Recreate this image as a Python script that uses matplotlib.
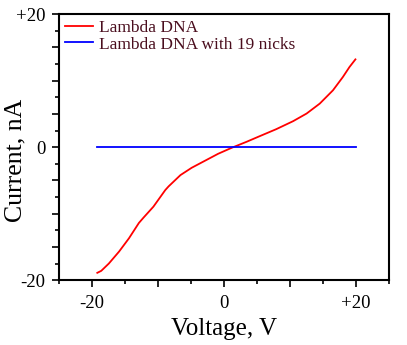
import numpy as np
import matplotlib.pyplot as plt
from matplotlib.ticker import MultipleLocator, FixedLocator, FixedFormatter

# red curve
voltage = [-19.2, -18.6, -17.45, -15.9, -14.4, -12.9, -12.2, -10.7, -8.9, -8.4,
           -6.6, -4.9, -2.9, -0.9, 1.15, 3.4, 5.4, 7.9, 10.45, 12.5, 14.5,
           16.5, 18.0, 19.0, 19.9]
current = [-18.9, -18.6, -17.5, -15.7, -13.7, -11.4, -10.6, -8.95, -6.45, -5.9,
           -4.2, -3.1, -2.05, -1.0, -0.1, 0.8, 1.65, 2.7, 3.9, 5.05, 6.55,
           8.55, 10.55, 12.05, 13.2]
# nicked DNA: flat at zero
nick_v = [-19.2, 20.0]
nick_i = [0.0, 0.0]

plt.rcParams['font.family'] = ['Liberation Serif', 'DejaVu Serif']

fig = plt.figure(figsize=(4.07, 3.45), dpi=100)
ax = fig.add_axes([0.145, 0.188, 0.811, 0.771])

ax.plot(voltage, current, color='red', lw=1.3, label='Lambda DNA')
ax.plot(nick_v, nick_i, color='blue', lw=1.3, label='Lambda DNA with 19 nicks')

ax.set_xlim(-25, 25)
ax.set_ylim(-20, 20)

ax.xaxis.set_major_locator(FixedLocator([-20, -10, 0, 10, 20]))
ax.xaxis.set_major_formatter(FixedFormatter(['-20', '', '0', '', '+20']))
ax.xaxis.set_minor_locator(MultipleLocator(5))
ax.yaxis.set_major_locator(FixedLocator([-20, -15, -10, -5, 0, 5, 10, 15, 20]))
ax.yaxis.set_major_formatter(FixedFormatter(['-20', '', '', '', '0', '', '', '', '+20']))
ax.yaxis.set_minor_locator(MultipleLocator(2.5))

ax.tick_params(which='both', direction='out', top=False, right=False,
               width=1.2, labelsize=13.5)
ax.tick_params(which='major', length=5)
ax.tick_params(which='minor', length=3)
ax.tick_params(axis='x', pad=6)
ax.tick_params(axis='y', pad=5)
for s in ax.spines.values():
    s.set_linewidth(1.5)

ax.set_xlabel('Voltage, V', fontsize=18, labelpad=4)
ax.set_ylabel('Current, nA', fontsize=18.5)
ax.yaxis.set_label_coords(-0.098, 0.45)

leg = ax.legend(loc='upper left', frameon=False, fontsize=12.5,
                handlelength=1.6, handletextpad=0.35, labelspacing=0.0,
                borderaxespad=0.2, borderpad=0.15)
for t in leg.get_texts():
    t.set_color('#4a0e1e')

fig.savefig('out.png', dpi=100)
